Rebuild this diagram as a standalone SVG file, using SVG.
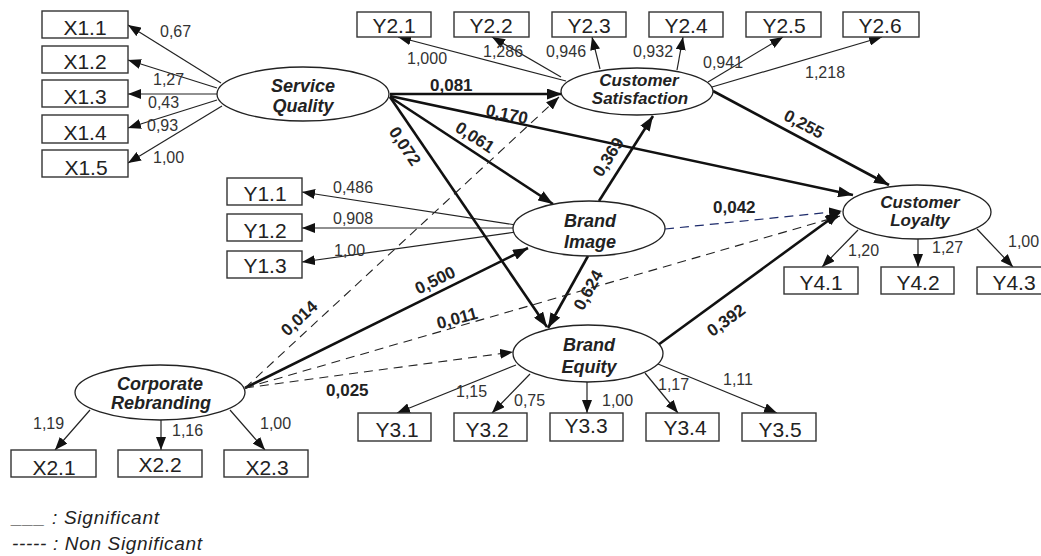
<svg xmlns="http://www.w3.org/2000/svg" width="1041" height="556" viewBox="0 0 1041 556">
<style>
.bg{fill:#fff}
.box{fill:#fff;stroke:#333;stroke-width:1.4}
.ell{fill:#fff;stroke:#222;stroke-width:1.3}
.bt{font-family:"Liberation Sans",Arial,sans-serif;font-size:21px;fill:#222;text-anchor:middle}
.et{font-family:"Liberation Sans",Arial,sans-serif;font-size:18px;font-weight:bold;font-style:italic;fill:#222;text-anchor:middle}
.et2{font-family:"Liberation Sans",Arial,sans-serif;font-size:17px;font-weight:bold;font-style:italic;fill:#222;text-anchor:middle}
.lb{font-family:"Liberation Sans",Arial,sans-serif;font-size:16px;fill:#333}
.pl{font-family:"Liberation Sans",Arial,sans-serif;font-size:17px;font-weight:bold;fill:#222}
.plc{font-family:"Liberation Sans",Arial,sans-serif;font-size:17px;font-weight:bold;fill:#222;text-anchor:middle}
.lg{font-family:"Liberation Sans",Arial,sans-serif;font-size:19px;font-style:italic;fill:#222}
.thin{fill:none;stroke:#222;stroke-width:1.2;marker-end:url(#ah)}
.thick{fill:none;stroke:#111;stroke-width:2.6;marker-end:url(#ahb)}
.dash{fill:none;stroke:#222;stroke-width:1.1;stroke-dasharray:9,6;marker-end:url(#ah)}
.dashn{fill:none;stroke:#1c2a6a;stroke-width:1.2;stroke-dasharray:9,6;marker-end:url(#ah)}
</style>
<defs>
<marker id="ah" viewBox="0 0 13 10" refX="13" refY="5" markerWidth="13" markerHeight="10" markerUnits="userSpaceOnUse" orient="auto"><path d="M0,0 L13,5 L0,10 z" fill="#111"/></marker>
<marker id="ahb" viewBox="0 0 15 11" refX="15" refY="5.5" markerWidth="15" markerHeight="11" markerUnits="userSpaceOnUse" orient="auto"><path d="M0,0 L15,5.5 L0,11 z" fill="#111"/></marker>
</defs>
<rect class="bg" x="0" y="0" width="1041" height="556"/>
<g id="connectors">
<path class="thin" d="M221,83 L128,25"/>
<path class="thin" d="M217,88 L128,60"/>
<path class="thin" d="M217,94 L128,94"/>
<path class="thin" d="M217,100 L128,128"/>
<path class="thin" d="M222,106 L128,163"/>
<path class="thin" d="M566,81 L398,37"/>
<path class="thin" d="M561,77 L492,37"/>
<path class="thin" d="M600,69 L592,37"/>
<path class="thin" d="M677,70 L683,37"/>
<path class="thin" d="M708,82 L783,37"/>
<path class="thin" d="M712,87 L882,37"/>
<path class="thin" d="M516,225 L302,192"/>
<path class="thin" d="M514,228 L302,228"/>
<path class="thin" d="M516,232 L302,262"/>
<path class="thin" d="M858,230 L822,267"/>
<path class="thin" d="M918,239 L918,267"/>
<path class="thin" d="M977,229 L1013,267"/>
<path class="thin" d="M516,365 L397,413"/>
<path class="thin" d="M530,374 L492,413"/>
<path class="thin" d="M587,381 L587,413"/>
<path class="thin" d="M645,373 L678,413"/>
<path class="thin" d="M658,364 L777,413"/>
<path class="thin" d="M90,410 L55,450"/>
<path class="thin" d="M161,420 L161,450"/>
<path class="thin" d="M230,410 L265,450"/>
<path class="thick" d="M390,94 L562,94"/>
<path class="thick" d="M390,96 L853,195"/>
<path class="thick" d="M390,97 L553,204"/>
<path class="thick" d="M390,97 L547,327"/>
<path class="thick" d="M713,91 L889,185"/>
<path class="thick" d="M599,201 L653,116"/>
<path class="thick" d="M588,256 L548,328"/>
<path class="thick" d="M658,345 L840,212"/>
<path class="thick" d="M245,388 L528,248"/>
<path class="dash" d="M245,388 L559,97"/>
<path class="dash" d="M245,388 L840,216"/>
<path class="dash" d="M245,388 L513,352"/>
<path class="dashn" d="M665,229 L842,211"/>
<text class="lb" x="160" y="37">0,67</text>
<text class="lb" x="153" y="85">1,27</text>
<text class="lb" x="148" y="108">0,43</text>
<text class="lb" x="147" y="131">0,93</text>
<text class="lb" x="153" y="163">1,00</text>
<text class="lb" x="407" y="64">1,000</text>
<text class="lb" x="483" y="57">1,286</text>
<text class="lb" x="546" y="57">0,946</text>
<text class="lb" x="633" y="57">0,932</text>
<text class="lb" x="703" y="68">0,941</text>
<text class="lb" x="805" y="78">1,218</text>
<text class="lb" x="333" y="193">0,486</text>
<text class="lb" x="333" y="224">0,908</text>
<text class="lb" x="334" y="256">1,00</text>
<text class="lb" x="848" y="256">1,20</text>
<text class="lb" x="932" y="253">1,27</text>
<text class="lb" x="1008" y="247">1,00</text>
<text class="lb" x="456" y="397">1,15</text>
<text class="lb" x="514" y="406">0,75</text>
<text class="lb" x="602" y="406">1,00</text>
<text class="lb" x="658" y="390">1,17</text>
<text class="lb" x="723" y="385">1,11</text>
<text class="lb" x="33" y="429">1,19</text>
<text class="lb" x="172" y="436">1,16</text>
<text class="lb" x="260" y="429">1,00</text>
<text class="pl" x="430" y="91">0,081</text>
<text class="pl" x="713" y="213">0,042</text>
<text class="pl" x="326" y="396">0,025</text>
<text class="plc" transform="translate(507,114) rotate(12)" y="6">0,170</text>
<text class="plc" transform="translate(475,137) rotate(33)" y="6">0,061</text>
<text class="plc" transform="translate(405,146) rotate(56)" y="6">0,072</text>
<text class="plc" transform="translate(608,157) rotate(-57)" y="6">0,369</text>
<text class="plc" transform="translate(588,290) rotate(-61)" y="6">0,624</text>
<text class="plc" transform="translate(726,320) rotate(-36)" y="6">0,392</text>
<text class="plc" transform="translate(804,124) rotate(28)" y="6">0,255</text>
<text class="plc" transform="translate(435,280) rotate(-26)" y="6">0,500</text>
<text class="plc" transform="translate(299,318) rotate(-43)" y="6">0,014</text>
<text class="plc" transform="translate(457,318) rotate(-15)" y="6">0,011</text>
</g>
<g id="SQ"><ellipse class="ell" cx="303" cy="94" rx="86" ry="27"/><text class="et" x="303" y="92">Service</text><text class="et" x="303" y="112">Quality</text></g>
<g id="CS"><ellipse class="ell" cx="637" cy="91.5" rx="76" ry="23.5"/><text class="et2" x="639" y="86">Customer</text><text class="et2" x="640" y="104">Satisfaction</text></g>
<g id="BI"><ellipse class="ell" cx="589" cy="228.5" rx="76" ry="27.5"/><text class="et" x="590" y="227">Brand</text><text class="et" x="590" y="248">Image</text></g>
<g id="CL"><ellipse class="ell" cx="917" cy="212" rx="74" ry="27"/><text class="et2" x="920" y="208">Customer</text><text class="et2" x="920" y="226">Loyalty</text></g>
<g id="BE"><ellipse class="ell" cx="588" cy="353.5" rx="75" ry="28.5"/><text class="et" x="589" y="351">Brand</text><text class="et" x="589" y="373">Equity</text></g>
<g id="CR"><ellipse class="ell" cx="160" cy="392.5" rx="85" ry="27.5"/><text class="et" x="160" y="390">Corporate</text><text class="et" x="161" y="409">Rebranding</text></g>
<g id="X1.1"><rect class="box" x="42" y="11" width="86" height="27"/><text class="bt" x="85" y="35">X1.1</text></g>
<g id="X1.2"><rect class="box" x="42" y="46" width="86" height="27"/><text class="bt" x="85" y="69">X1.2</text></g>
<g id="X1.3"><rect class="box" x="42" y="80" width="86" height="27"/><text class="bt" x="85" y="104">X1.3</text></g>
<g id="X1.4"><rect class="box" x="42" y="115" width="86" height="28"/><text class="bt" x="85" y="140">X1.4</text></g>
<g id="X1.5"><rect class="box" x="42" y="150" width="86" height="27"/><text class="bt" x="86" y="175">X1.5</text></g>
<g id="Y2.1"><rect class="box" x="357" y="12" width="74" height="25"/><text class="bt" x="394" y="33">Y2.1</text></g>
<g id="Y2.2"><rect class="box" x="454" y="12" width="75" height="25"/><text class="bt" x="491" y="33">Y2.2</text></g>
<g id="Y2.3"><rect class="box" x="552" y="12" width="74" height="25"/><text class="bt" x="589" y="33">Y2.3</text></g>
<g id="Y2.4"><rect class="box" x="649" y="12" width="74" height="25"/><text class="bt" x="686" y="33">Y2.4</text></g>
<g id="Y2.5"><rect class="box" x="746" y="12" width="75" height="25"/><text class="bt" x="784" y="33">Y2.5</text></g>
<g id="Y2.6"><rect class="box" x="843" y="12" width="76" height="25"/><text class="bt" x="880" y="33">Y2.6</text></g>
<g id="Y1.1"><rect class="box" x="227" y="178" width="75" height="27"/><text class="bt" x="265" y="201">Y1.1</text></g>
<g id="Y1.2"><rect class="box" x="227" y="214" width="75" height="27"/><text class="bt" x="265" y="238">Y1.2</text></g>
<g id="Y1.3"><rect class="box" x="227" y="251" width="75" height="27"/><text class="bt" x="265" y="273">Y1.3</text></g>
<g id="Y4.1"><rect class="box" x="784" y="267" width="74" height="27"/><text class="bt" x="821" y="290">Y4.1</text></g>
<g id="Y4.2"><rect class="box" x="881" y="267" width="73" height="27"/><text class="bt" x="918" y="290">Y4.2</text></g>
<g id="Y4.3"><rect class="box" x="977" y="267" width="74" height="27"/><text class="bt" x="1014" y="290">Y4.3</text></g>
<g id="Y3.1"><rect class="box" x="358" y="413" width="73" height="28"/><text class="bt" x="397" y="437">Y3.1</text></g>
<g id="Y3.2"><rect class="box" x="454" y="413" width="73" height="28"/><text class="bt" x="487" y="437">Y3.2</text></g>
<g id="Y3.3"><rect class="box" x="550" y="413" width="73" height="28"/><text class="bt" x="586" y="433">Y3.3</text></g>
<g id="Y3.4"><rect class="box" x="646" y="413" width="73" height="28"/><text class="bt" x="685" y="435">Y3.4</text></g>
<g id="Y3.5"><rect class="box" x="742" y="413" width="74" height="28"/><text class="bt" x="780" y="437">Y3.5</text></g>
<g id="X2.1"><rect class="box" x="11" y="450" width="85" height="27"/><text class="bt" x="54" y="475">X2.1</text></g>
<g id="X2.2"><rect class="box" x="118" y="450" width="84" height="27"/><text class="bt" x="160" y="472">X2.2</text></g>
<g id="X2.3"><rect class="box" x="224" y="450" width="84" height="27"/><text class="bt" x="267" y="475">X2.3</text></g>
<g id="legend">
<text class="lg" x="12" y="524" textLength="147" lengthAdjust="spacing">___ : Significant</text>
<text class="lg" x="12" y="550" textLength="190" lengthAdjust="spacing">----- : Non Significant</text>
</g>
</svg>
